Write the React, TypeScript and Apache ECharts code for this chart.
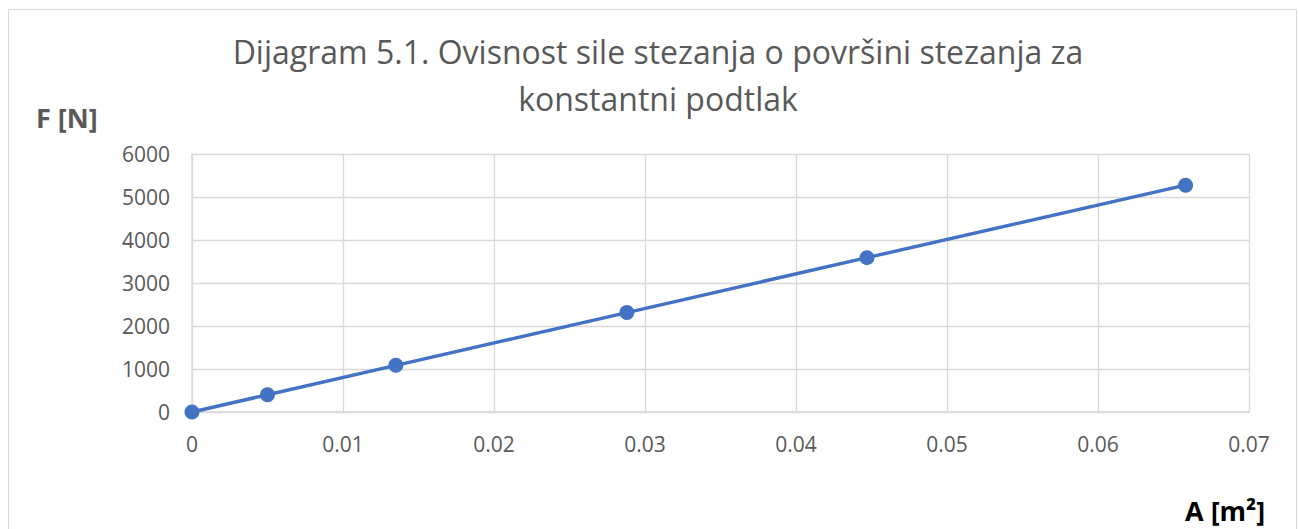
import React, { useEffect, useRef } from "react";
import * as echarts from "echarts";

const areaA = [0, 0.005, 0.0135, 0.0288, 0.0447, 0.0658];
const forceF = [0, 402, 1085, 2312, 3590, 5276];
const titleText = "Dijagram 5.1. Ovisnost sile stezanja o površini stezanja za\nkonstantni podtlak";
const yName = "F [N]";
const xName = "A [m²]";

export default function App() {
  const ref = useRef<HTMLDivElement>(null);
  useEffect(() => {
    if (!ref.current) return;
    const chart = echarts.init(ref.current, null, { renderer: "svg" });
    const font = "'Open Sans', 'Noto Sans', sans-serif";
    chart.setOption({
      animation: false,
      backgroundColor: "#ffffff",
      textStyle: { fontFamily: font },
      title: {
        text: titleText,
        left: 653,
        textAlign: "center",
        top: 23,
        textStyle: { fontFamily: font, fontSize: 32, fontWeight: "normal", color: "#595959", lineHeight: 47 },
      },
      graphic: [
        {
          type: "rect",
          shape: { x: 8.5, y: 9.5, width: 1288, height: 540 },
          style: { fill: "none", stroke: "#d9d9d9", lineWidth: 1 },
          silent: true,
        },
        {
          type: "text",
          x: 36,
          y: 117,
          style: { text: yName, font: `bold 27px ${font}`, fill: "#595959", textVerticalAlign: "middle" },
        },
        {
          type: "text",
          x: 1185,
          y: 510,
          style: { text: xName, font: `bold 27px ${font}`, fill: "#000000", textVerticalAlign: "middle" },
        },
      ],
      grid: { left: 192, top: 154, right: 50, bottom: 117, containLabel: false },
      xAxis: {
        type: "value",
        min: 0,
        max: 0.07,
        interval: 0.01,
        axisLine: { show: true, lineStyle: { color: "#d9d9d9", width: 1.5 } },
        axisTick: { show: false },
        splitLine: { show: true, lineStyle: { color: "#d9d9d9", width: 1.3 } },
        axisLabel: { color: "#595959", fontSize: 21, margin: 21, fontFamily: font, formatter: (v: number) => String(Math.round(v * 100) / 100) },
      },
      yAxis: {
        type: "value",
        min: 0,
        max: 6000,
        interval: 1000,
        axisLine: { show: true, lineStyle: { color: "#d9d9d9", width: 1.5 } },
        axisTick: { show: false },
        splitLine: { show: true, lineStyle: { color: "#d9d9d9", width: 1.3 } },
        axisLabel: { color: "#595959", fontSize: 21, margin: 22, fontFamily: font, formatter: (v: number) => String(v) },
      },
      series: [
        {
          type: "line",
          data: areaA.map((a, i) => [a, forceF[i]]),
          symbol: "circle",
          symbolSize: 15,
          lineStyle: { color: "#4472c4", width: 3.5 },
          itemStyle: { color: "#4472c4" },
        },
      ],
    });
    return () => chart.dispose();
  }, []);
  return (
    <div
      ref={ref}
      style={{ position: "absolute", left: 0, top: 0, width: 1299, height: 529 }}
    />
  );
}
